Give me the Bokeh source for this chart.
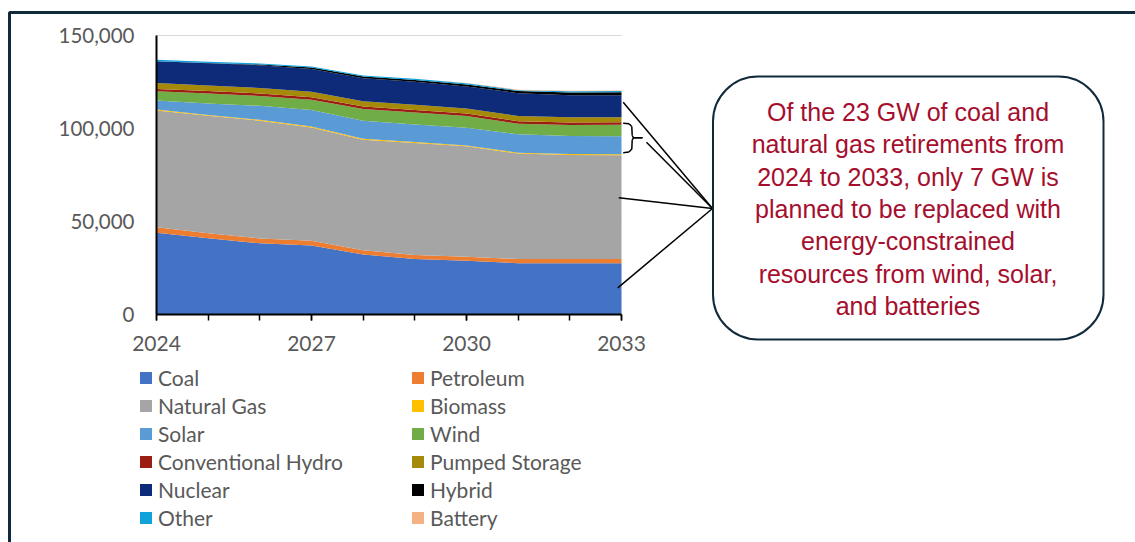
from bokeh.plotting import figure
from bokeh.models import (Range1d, FixedTicker, NumeralTickFormatter, Legend, LegendItem,
                          BoxAnnotation, Label, Arrow, ColumnDataSource, LinearAxis, Grid)
from bokeh.embed import file_html
from bokeh.resources import INLINE

# ---------------- data (MW) ----------------
years = [2024, 2025, 2026, 2027, 2028, 2029, 2030, 2031, 2032, 2033]
coal = [43900, 41000, 38300, 37100, 32300, 29800, 28900, 27600, 27600, 27600]
petroleum = [3000, 2700, 2600, 2500, 2300, 2200, 2200, 2200, 2200, 2200]
natural_gas = [62800, 63100, 63300, 61000, 59400, 60200, 59300, 56700, 56000, 55800]
biomass = [500, 500, 500, 500, 500, 500, 500, 500, 500, 500]
solar = [4800, 6200, 7500, 8900, 9700, 9400, 9500, 9900, 9700, 9700]
wind = [5000, 5300, 5300, 5500, 6300, 6500, 6300, 5700, 5900, 6200]
conventional_hydro = [1300, 1300, 1300, 1300, 1300, 1300, 1300, 1300, 1300, 1300]
pumped_storage = [3100, 3000, 3000, 2900, 2900, 2900, 2800, 2800, 2800, 2800]
nuclear = [11700, 12000, 12200, 12300, 12300, 12300, 11800, 12300, 11900, 11800]
hybrid = [0, 100, 400, 800, 900, 1000, 1100, 1100, 1500, 1600]
other = [800, 700, 600, 600, 600, 600, 600, 500, 600, 600]
battery = [0, 0, 0, 0, 0, 100, 200, 300, 300, 300]

series_names = ["Coal", "Petroleum", "Natural Gas", "Biomass", "Solar", "Wind",
                "Conventional Hydro", "Pumped Storage", "Nuclear", "Hybrid", "Other", "Battery"]
series_values = [coal, petroleum, natural_gas, biomass, solar, wind,
                 conventional_hydro, pumped_storage, nuclear, hybrid, other, battery]
colors = ["#4472C4", "#ED7D31", "#A5A5A5", "#FFC000", "#5B9BD5", "#70AD47",
          "#9A1F12", "#A58A0A", "#0D2B78", "#000000", "#12A2DA", "#F4B183"]

y_ticks = [0, 50000, 100000, 150000]
x_label_ticks = [2024, 2027, 2030, 2033]

callout_text = ("Of the 23 GW of coal and\nnatural gas retirements from\n2024 to 2033, only 7 GW is\n"
                "planned to be replaced with\nenergy-constrained\nresources from wind, solar,\nand batteries")

# ---------------- geometry ----------------
W, H = 1135, 542
FL, FR, FT, FB = 156, 621, 35, 314   # chart area edges in page pixels
X0, X1, Y0, Y1 = 2024, 2033, 0, 150000
NAVY = "#102A3C"
GREY_TEXT = "#595959"


# page pixel -> data coordinates (linear, same as the figure's scales)
def xd(px):
    return X0 + (px - FL) * (X1 - X0) / (FR - FL)


def yd(py):
    return Y0 + (FB - py) * (Y1 - Y0) / (FB - FT)


src = ColumnDataSource(dict(year=years, **{n: v for n, v in zip(series_names, series_values)}))

# the frame spans the whole page; the axes sit at fixed locations inside it
p = figure(width=W, height=H, x_range=Range1d(xd(0), xd(W)), y_range=Range1d(yd(H), yd(0)),
           output_backend="svg", toolbar_location=None,
           x_axis_location=None, y_axis_location=None,
           min_border=0, min_border_left=0, min_border_right=0, min_border_top=0, min_border_bottom=0)
p.outline_line_color = None
p.background_fill_color = "white"
p.border_fill_color = "white"
p.xgrid.visible = False
p.ygrid.visible = False

# horizontal gridlines limited to the chart area
if "cross_bounds" in Grid.properties():
    grid = Grid(dimension=1, ticker=FixedTicker(ticks=y_ticks), cross_bounds=(X0, X1),
                grid_line_color="#D9D9D9", grid_line_width=1)
    p.add_layout(grid)
else:
    p.segment(x0=[X0] * len(y_ticks), x1=[X1] * len(y_ticks), y0=y_ticks, y1=y_ticks,
              line_color="#D9D9D9", line_width=1)

rs = p.varea_stack(stackers=series_names, x="year", color=colors, source=src)

# axes
xaxis = LinearAxis(fixed_location=Y0, bounds=(X0, X1),
                   ticker=FixedTicker(ticks=x_label_ticks, minor_ticks=years))
xaxis.axis_line_color = "black"
xaxis.axis_line_width = 2
xaxis.major_tick_out = 6
xaxis.major_tick_in = 0
xaxis.minor_tick_out = 6
xaxis.minor_tick_in = 0
xaxis.major_tick_line_width = 1.5
xaxis.minor_tick_line_width = 1.5
xaxis.major_tick_line_color = "black"
xaxis.minor_tick_line_color = "black"
xaxis.major_label_standoff = 15
xaxis.major_label_text_font = "Lato"
xaxis.major_label_text_font_size = "21px"
xaxis.major_label_text_color = GREY_TEXT
p.add_layout(xaxis, "below")

yaxis = LinearAxis(fixed_location=X0, bounds=(Y0, Y1), ticker=FixedTicker(ticks=y_ticks),
                   formatter=NumeralTickFormatter(format="0,0"))
yaxis.axis_line_color = "black"
yaxis.axis_line_width = 2
yaxis.major_tick_out = 0
yaxis.major_tick_in = 0
yaxis.minor_tick_line_color = None
yaxis.major_label_standoff = 22
yaxis.major_label_text_font = "Lato"
yaxis.major_label_text_font_size = "20.5px"
yaxis.major_label_text_color = GREY_TEXT
p.add_layout(yaxis, "left")

# legend (two columns, row-major)
legend = Legend(items=[LegendItem(label=n, renderers=[r]) for n, r in zip(series_names, rs)],
                orientation="horizontal", ncols=2,
                glyph_width=15, glyph_height=15, label_standoff=5,
                label_width=252, label_height=28, spacing=0, padding=0, margin=0,
                border_line_color=None, background_fill_alpha=0,
                label_text_font="Lato", label_text_font_size="21px", label_text_color=GREY_TEXT,
                location=(138, H - 531))
p.add_layout(legend, "center")

# outer frame
p.add_layout(BoxAnnotation(left=xd(9), right=xd(W + 40), top=yd(12), bottom=yd(H + 40),
                           fill_alpha=0, line_color=NAVY, line_alpha=1, line_width=3))

# connector lines
hub = (712, 208)
for ex, ey in [(622.7, 101.7), (646, 141.7), (618.3, 197.3), (617.3, 287.3)]:
    p.add_layout(Arrow(end=None, x_start=xd(hub[0]), y_start=yd(hub[1]),
                       x_end=xd(ex), y_end=yd(ey), line_color="black", line_width=1.5))

# brace
brace = [(622.7, 122.7), (628.5, 123.2), (631.3, 126), (631.7, 135), (633, 137.3), (642, 137.3),
         (633, 137.3), (631.7, 139.6), (631.3, 148.6), (628.5, 151.6), (622.7, 152.3)]
for (ax, ay), (bx, by) in zip(brace[:-1], brace[1:]):
    p.add_layout(Arrow(end=None, x_start=xd(ax), y_start=yd(ay), x_end=xd(bx), y_end=yd(by),
                       line_color="black", line_width=1.5))

# callout box and text
p.add_layout(BoxAnnotation(left=xd(712.5), right=xd(1103), top=yd(76), bottom=yd(339),
                           fill_color="white", fill_alpha=1, line_color=NAVY, line_alpha=1,
                           line_width=2, border_radius=45))
p.add_layout(Label(x=xd(907.5), y=yd(208.5), text=callout_text, text_align="center",
                   text_baseline="middle", text_font="Liberation Sans", text_font_size="25px",
                   text_color="#A50E2D", text_line_height=1.155))

open("out.html", "w").write(file_html(p, INLINE))
